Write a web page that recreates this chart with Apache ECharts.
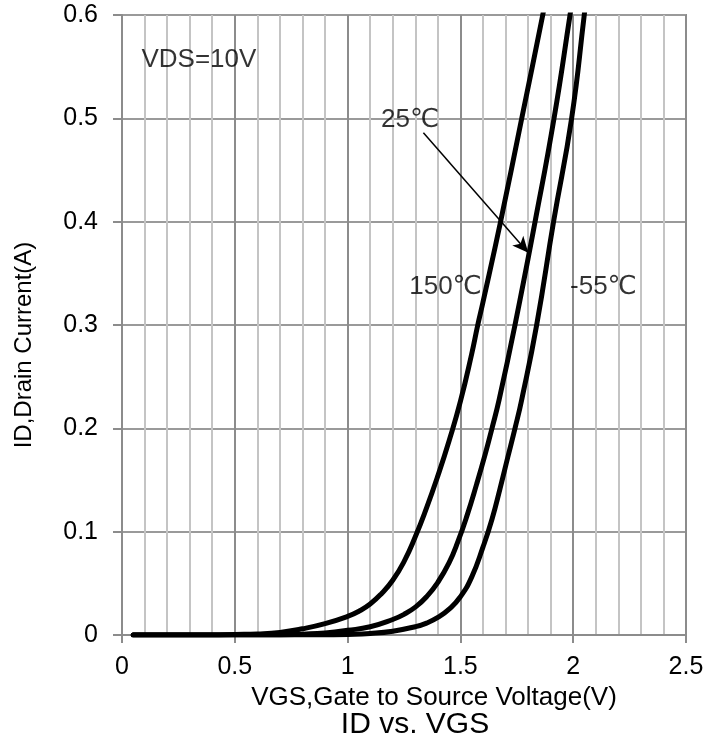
<!DOCTYPE html>
<html>
<head>
<meta charset="utf-8">
<script src="https://cdn.jsdelivr.net/npm/echarts@6/dist/echarts.min.js"></script>
<style>
html,body{margin:0;padding:0;background:#fff;}
#chart{width:722px;height:755px;}
</style>
</head>
<body>
<div id="chart"></div>
<script>
// ---- data ----
const xTicks = [0, 0.5, 1, 1.5, 2, 2.5];
const yTicks = [0, 0.1, 0.2, 0.3, 0.4, 0.5, 0.6];

const vgs150 = [0.05, 0.4, 0.5, 0.6, 0.7, 0.8, 0.9, 1.0, 1.05, 1.1, 1.15, 1.2, 1.25, 1.3, 1.35, 1.4, 1.45, 1.5, 1.55, 1.577, 1.6, 1.678, 1.772, 1.865, 1.89];
const id150  = [0, 0, 0.0005, 0.001, 0.0025, 0.006, 0.011, 0.018, 0.023, 0.03, 0.04, 0.053, 0.071, 0.095, 0.123, 0.154, 0.188, 0.226, 0.272, 0.3, 0.322, 0.4, 0.5, 0.6, 0.628];

const vgs25 = [0.05, 0.7, 0.8, 0.9, 1.0, 1.1, 1.2, 1.25, 1.3, 1.35, 1.4, 1.45, 1.49, 1.53, 1.572, 1.61, 1.64, 1.672, 1.742, 1.831, 1.915, 1.986, 2.01];
const id25  = [0, 0, 0.0008, 0.002, 0.0045, 0.008, 0.015, 0.02, 0.027, 0.037, 0.051, 0.07, 0.091, 0.116, 0.146, 0.175, 0.2, 0.228, 0.3, 0.4, 0.5, 0.6, 0.635];

const vgsM55 = [0.05, 0.9, 1.0, 1.1, 1.2, 1.3, 1.35, 1.4, 1.45, 1.5, 1.55, 1.6, 1.64, 1.676, 1.71, 1.742, 1.772, 1.838, 1.913, 1.993, 2.049, 2.065];
const idM55  = [0, 0, 0.0005, 0.0015, 0.0037, 0.008, 0.0115, 0.017, 0.025, 0.037, 0.056, 0.085, 0.112, 0.142, 0.172, 0.2, 0.228, 0.3, 0.4, 0.5, 0.6, 0.63];

const labels = [
  {text: 'VDS=10V', x: 0.341, y: 0.557},
  {text: '25℃', x: 1.277, y: 0.4985},
  {text: '150℃', x: 1.434, y: 0.3366},
  {text: '-55℃', x: 2.134, y: 0.3366}
];
const arrowFrom = [1.336, 0.486];
const arrowTo = [1.801, 0.370];

const titleText = 'ID vs. VGS';
const xName = 'VGS,Gate to Source Voltage(V)';
const yName = 'ID,Drain Current(A)';

// ---- chart ----
const FONT = "'Liberation Sans', Arial, 'DejaVu Sans', sans-serif";
const pairs = (xs, ys) => xs.map((x, i) => [x, ys[i]]);

function curve(name, xs, ys) {
  return {
    name: name, type: 'line', data: pairs(xs, ys),
    smooth: 0.5, showSymbol: false, symbol: 'none',
    clip: true, silent: true,
    lineStyle: {color: '#000', width: 5, cap: 'round', join: 'round'},
    z: 3
  };
}

const chart = echarts.init(document.getElementById('chart'), null, {renderer: 'canvas'});
chart.setOption({
  animation: false,
  backgroundColor: '#fff',
  title: {
    text: titleText, left: 410, top: 705, textAlign: 'center',
    textStyle: {fontFamily: FONT, fontSize: 30, fontWeight: 'normal', color: '#000'}
  },
  grid: {left: 122, right: 36, top: 15, bottom: 120, show: true, borderColor: '#8c8c8c', borderWidth: 2, backgroundColor: 'transparent'},
  xAxis: {
    type: 'value', min: xTicks[0], max: xTicks[xTicks.length - 1], interval: 0.5,
    name: xName, nameLocation: 'middle', nameGap: 44,
    nameTextStyle: {fontFamily: FONT, fontSize: 26, color: '#000', padding: [0, 0, 0, 60]},
    axisLine: {show: true, lineStyle: {color: '#8c8c8c', width: 2}},
    axisTick: {show: true, length: 8, lineStyle: {color: '#8c8c8c', width: 2}},
    minorTick: {show: false, splitNumber: 5},
    axisLabel: {fontFamily: FONT, fontSize: 25, color: '#000', margin: 20},
    splitLine: {show: true, lineStyle: {color: '#8c8c8c', width: 2}},
    minorSplitLine: {show: true, lineStyle: {color: '#c4c4c4', width: 2}}
  },
  yAxis: {
    type: 'value', min: yTicks[0], max: yTicks[yTicks.length - 1], interval: 0.1,
    name: yName, nameLocation: 'middle', nameGap: 86,
    nameTextStyle: {fontFamily: FONT, fontSize: 24, color: '#000', padding: [0, 40, 0, 0]},
    axisLine: {show: true, lineStyle: {color: '#8c8c8c', width: 2}},
    axisTick: {show: true, length: 9, lineStyle: {color: '#8c8c8c', width: 2}},
    axisLabel: {fontFamily: FONT, fontSize: 25, color: '#000', margin: 24,
      formatter: v => String(Math.round(v * 10) / 10)},
    splitLine: {show: true, lineStyle: {color: '#9a9a9a', width: 2}}
  },
  series: [
    curve('150℃', vgs150, id150),
    curve('25℃', vgs25, id25),
    curve('-55℃', vgsM55, idM55),
    {
      name: 'notes', type: 'scatter', symbolSize: 0, silent: true, z: 5,
      data: labels.map(l => ({value: [l.x, l.y], name: l.text})),
      label: {show: true, position: 'inside', formatter: p => p.name,
        fontFamily: FONT, fontSize: 26, color: '#000'},
      markLine: {
        silent: true, symbol: ['none', 'arrow'], symbolSize: [11, 16],
        label: {show: false},
        lineStyle: {color: '#000', width: 1.5, type: 'solid'},
        data: [[{coord: arrowFrom}, {coord: arrowTo}]]
      }
    }
  ]
});
</script>
</body>
</html>
